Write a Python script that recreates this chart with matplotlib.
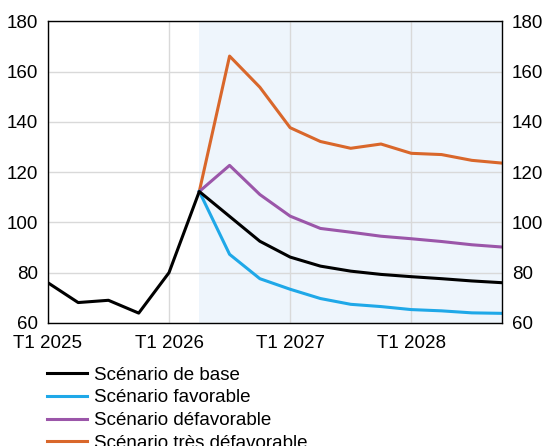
import matplotlib.pyplot as plt
import numpy as np

plt.rcParams['font.family'] = ['Liberation Sans', 'DejaVu Sans']

quarters = np.arange(16)
tickPos = [0, 4, 8, 12]
tickLabels = ["T1 2025", "T1 2026", "T1 2027", "T1 2028"]

base = [76, 68.1, 69, 63.9, 80, 112.3, 102.4, 92.5, 86.2, 82.6, 80.6, 79.3, 78.4, 77.6, 76.7, 76]
favorable = [87.3, 77.6, 73.4, 69.7, 67.4, 66.5, 65.3, 64.8, 64, 63.8]
defavorable = [122.7, 111.1, 102.5, 97.6, 96.1, 94.5, 93.5, 92.4, 91.1, 90.2]
tresDefavorable = [166.2, 153.8, 137.7, 132.2, 129.5, 131.2, 127.5, 127, 124.7, 123.6]
forecastStart = 5

names = ["Scénario de base", "Scénario favorable", "Scénario défavorable", "Scénario très défavorable"]
colors = ["black", "#1fa8e8", "#9b56a9", "#d9672b"]

fig = plt.figure(figsize=(5.44, 4.46), dpi=100)
ax = fig.add_axes([0.088, 0.276, 0.835, 0.676])

ax.axvspan(forecastStart, 15, color="#eef5fc", zorder=0, lw=0)

fx = quarters[forecastStart:]
start = base[forecastStart]
ax.plot(fx, [start] + tresDefavorable, color=colors[3], lw=2.2, label=names[3])
ax.plot(fx, [start] + defavorable, color=colors[2], lw=2.2, label=names[2])
ax.plot(fx, [start] + favorable, color=colors[1], lw=2.2, label=names[1])
ax.plot(quarters, base, color=colors[0], lw=2.2, label=names[0])

ax.set_xlim(0, 15)
ax.set_ylim(60, 180)
ax.set_yticks(range(60, 181, 20))
ax.set_xticks(tickPos)
ax.set_xticklabels(tickLabels)
ax.grid(True, color="#d9d9d9", lw=1)
ax.set_axisbelow(True)
ax.tick_params(axis="both", length=0, labelsize=13.5, pad=7)
ax.tick_params(axis="x", pad=9)
ax.tick_params(axis="y", right=True, labelright=True)
for s in ax.spines.values():
    s.set_color("black")
    s.set_linewidth(1)

handles, labels = ax.get_legend_handles_labels()
order = [3, 2, 1, 0]
fig.legend([handles[i] for i in order], [labels[i] for i in order],
           loc="upper left", bbox_to_anchor=(0.086, 0.178), frameon=False,
           fontsize=13.5, handlelength=2.13, handletextpad=0.37,
           labelspacing=0.3, borderpad=0, borderaxespad=0)

fig.savefig("out.png", dpi=100)
